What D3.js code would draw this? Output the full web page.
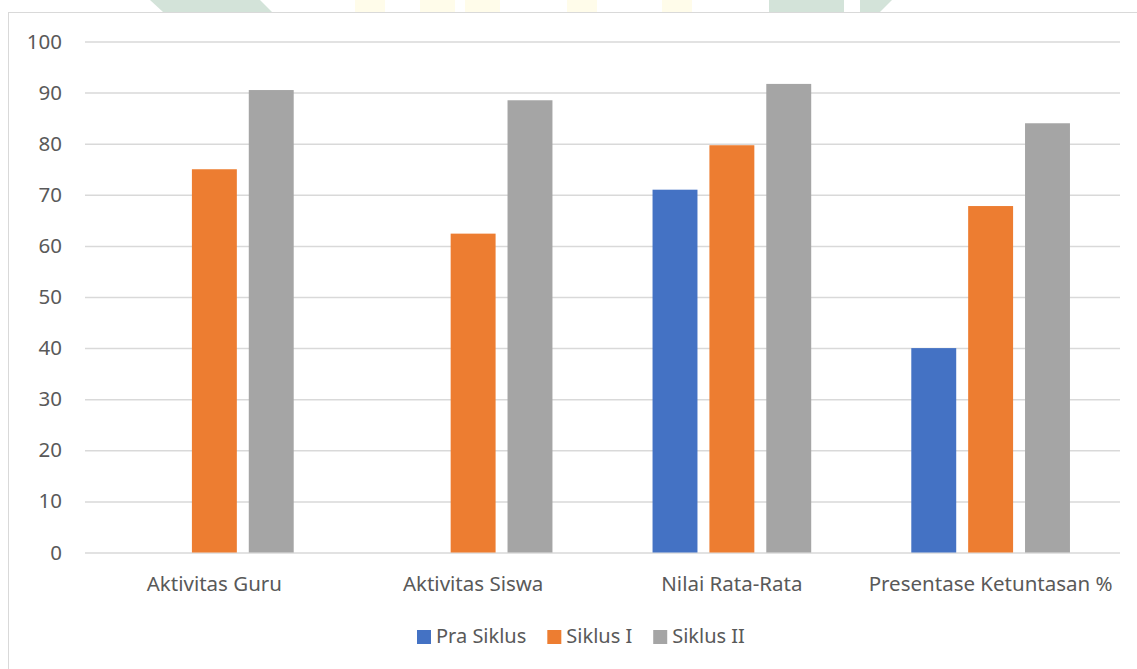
<!DOCTYPE html>
<html>
<head>
<meta charset="utf-8">
<script src="https://cdn.jsdelivr.net/npm/d3@7"></script>
<style>
  body { margin: 0; background: #fff; }
  text { font-family: "Noto Sans", "Open Sans", sans-serif; fill: #595959; }
</style>
</head>
<body>
<div id="chart"></div>
<script>
// data
const categories = ["Aktivitas Guru", "Aktivitas Siswa", "Nilai Rata-Rata", "Presentase Ketuntasan %"];
const seriesNames = ["Pra Siklus", "Siklus I", "Siklus II"];
const praSiklus = [null, null, 71, 40];
const siklusI = [75, 62.4, 79.7, 67.8];
const siklusII = [90.5, 88.5, 91.7, 84];
const yTicks = [0, 10, 20, 30, 40, 50, 60, 70, 80, 90, 100];
const colors = ["#4472C4", "#ED7D31", "#A5A5A5"];

const width = 1137, height = 669;
const margins = { top: 41.5, bottom: 116.5, left: 85, right: 17 };
const fontSize = 20.5;

const svg = d3.select("#chart")
  .append("svg")
  .attr("width", width)
  .attr("height", height);

// faint watermark peeking above the chart frame
const wm = svg.append("g").attr("class", "watermark");
wm.append("polygon").attr("points", "150,0 260,0 272,12 163,12").attr("fill", "#d3e3d9");
wm.append("rect").attr("x", 769).attr("y", 0).attr("width", 75).attr("height", 12).attr("fill", "#d3e3d9");
wm.append("polygon").attr("points", "860,0 892,0 880,12 860,12").attr("fill", "#d3e3d9");
[[355, 30], [420, 35], [465, 35], [567, 30], [662, 30]].forEach(d => {
  wm.append("rect").attr("x", d[0]).attr("y", 0).attr("width", d[1]).attr("height", 12).attr("fill", "#fffcea");
});

// chart frame (runs off the right and bottom of the picture)
svg.append("rect")
  .attr("x", 8.5).attr("y", 12.5)
  .attr("width", 1200).attr("height", 700)
  .attr("fill", "#fff")
  .attr("stroke", "#d9d9d9");

const x0 = d3.scaleBand()
  .domain(categories)
  .range([margins.left, width - margins.right]);

const x1 = d3.scaleBand()
  .domain(seriesNames)
  .range([0, x0.bandwidth()])
  .paddingInner(0.21)
  .paddingOuter(0.88);

const y = d3.scaleLinear()
  .domain([0, 100])
  .range([height - margins.bottom, margins.top]);

// gridlines
const yAxis = d3.axisLeft(y)
  .tickValues(yTicks)
  .tickSize(-(width - margins.right - margins.left))
  .tickPadding(23);

const gy = svg.append("g")
  .attr("transform", `translate(${margins.left},0)`)
  .call(yAxis);
gy.select(".domain").remove();
gy.selectAll("line").attr("stroke", "#d9d9d9").attr("stroke-width", 1.5);
gy.selectAll("text")
  .attr("font-size", fontSize)
  .attr("fill", "#595959")
  .attr("font-family", "Noto Sans, Open Sans, sans-serif");

// bars
const rows = categories.map((c, i) => ({
  category: c,
  values: [praSiklus[i], siklusI[i], siklusII[i]]
}));

const groups = svg.selectAll("g.group")
  .data(rows)
  .join("g")
  .attr("class", "group")
  .attr("transform", d => `translate(${x0(d.category)},0)`);

groups.selectAll("rect")
  .data(d => d.values.map((v, j) => ({ name: seriesNames[j], value: v, j })).filter(e => e.value != null))
  .join("rect")
  .attr("x", d => x1(d.name))
  .attr("y", d => y(d.value))
  .attr("width", x1.bandwidth())
  .attr("height", d => y(0) - y(d.value))
  .attr("fill", d => colors[d.j]);

// category labels
svg.append("g")
  .selectAll("text")
  .data(categories)
  .join("text")
  .attr("x", d => x0(d) + x0.bandwidth() / 2)
  .attr("y", 591)
  .attr("text-anchor", "middle")
  .attr("font-size", fontSize)
  .text(d => d);

// legend
const legend = svg.append("g").attr("class", "legend");
let lx = 417;
seriesNames.forEach((name, i) => {
  legend.append("rect")
    .attr("x", lx).attr("y", 630)
    .attr("width", 14).attr("height", 14)
    .attr("fill", colors[i]);
  const t = legend.append("text")
    .attr("x", lx + 19)
    .attr("y", 643)
    .attr("font-size", 20)
    .text(name);
  lx += 19 + t.node().getComputedTextLength() + 21;
});
</script>
</body>
</html>
